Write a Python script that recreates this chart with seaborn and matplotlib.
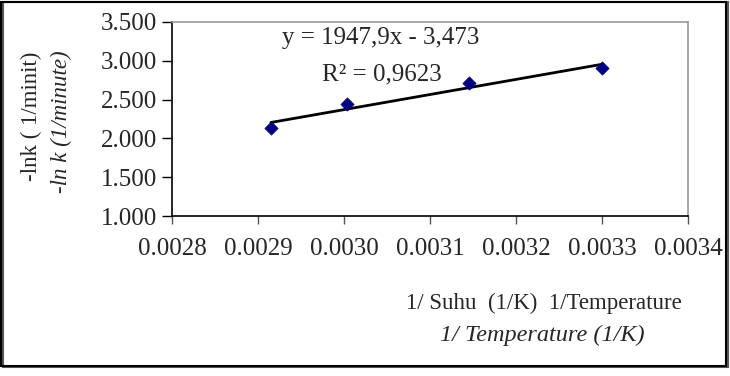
import matplotlib
matplotlib.use("Agg")
import matplotlib.pyplot as plt
from matplotlib.patches import Rectangle
import numpy as np
import pandas as pd
import seaborn as sns

# data
inv_temp = [0.002915, 0.003003, 0.003145, 0.003300]
neg_ln_k = [2.135, 2.440, 2.720, 2.905]
slope = 1947.9
intercept = -3.473
y_ticks = [1.0, 1.5, 2.0, 2.5, 3.0, 3.5]
x_ticks = [0.0028, 0.0029, 0.0030, 0.0031, 0.0032, 0.0033, 0.0034]

df = pd.DataFrame({'x': inv_temp, 'y': neg_ln_k})
trend = pd.DataFrame({'x': [min(inv_temp), max(inv_temp)]})
trend['y'] = slope * trend['x'] + intercept

sns.set_style('white')
plt.rcParams['font.family'] = ['Liberation Serif', 'DejaVu Serif']

FS = 18     # tick labels and equation
FT = 16.5   # axis titles

fig = plt.figure(figsize=(7.3, 3.76), dpi=100)
ax = fig.add_axes([172 / 730, 1 - 216 / 376, 516 / 730, 194 / 376])

sns.lineplot(data=trend, x='x', y='y', color='black', linewidth=2, ax=ax)
sns.scatterplot(data=df, x='x', y='y', marker='D', color='#000080', s=45,
                edgecolor='#000080', ax=ax, zorder=3)

ax.set_xlim(0.0028, 0.0034)
ax.set_ylim(1.0, 3.5)
ax.set_xticks(x_ticks)
ax.set_xticklabels(['%.4f' % v for v in x_ticks])
ax.set_yticks(y_ticks)
ax.set_yticklabels(['%.3f' % v for v in y_ticks])
ax.set_xlabel('')
ax.set_ylabel('')
ax.tick_params(axis='x', direction='out', length=6, width=1, color='#555555',
               pad=10, labelsize=FS, bottom=True)
ax.tick_params(axis='y', direction='out', length=7, width=1, color='black',
               pad=4, labelsize=FS, left=True)

for side in ['left', 'bottom']:
    ax.spines[side].set_color('black')
    ax.spines[side].set_linewidth(1.2)
for side in ['top', 'right']:
    ax.spines[side].set_color('#999999')
    ax.spines[side].set_linewidth(1.2)

# equation and R^2
fig.text(282 / 730, 1 - 38 / 376, 'y = 1947,9x - 3,473', fontsize=FS,
         ha='left', va='center')
fig.text(322 / 730, 1 - 74 / 376, 'R² = 0,9623', fontsize=FS,
         ha='left', va='center')

# axis titles
fig.text(31 / 730, 1 - 116 / 376, '-lnk ( 1/minit)', fontsize=FT,
         rotation=90, ha='center', va='center')
fig.text(61 / 730, 1 - 122 / 376, '-ln k (1/minute)', fontsize=FT,
         style='italic', rotation=90, ha='center', va='center')
fig.text(544 / 730, 1 - 303 / 376, '1/ Suhu  (1/K)  1/Temperature', fontsize=FT,
         ha='center', va='center')
fig.text(542 / 730, 1 - 335 / 376, '1/ Temperature (1/K)', fontsize=17.5,
         style='italic', ha='center', va='center')

# outer frame
fig.patches.append(Rectangle((3 / 730, 9 / 376), 725 / 730, 365 / 376,
                             transform=fig.transFigure, fill=False,
                             edgecolor='#555555', linewidth=1.5))
fig.patches.append(Rectangle((1.5 / 730, 10.5 / 376), 724 / 730, 364 / 376,
                             transform=fig.transFigure, fill=False,
                             edgecolor='black', linewidth=1.5))

fig.savefig('out.png', dpi=100)
